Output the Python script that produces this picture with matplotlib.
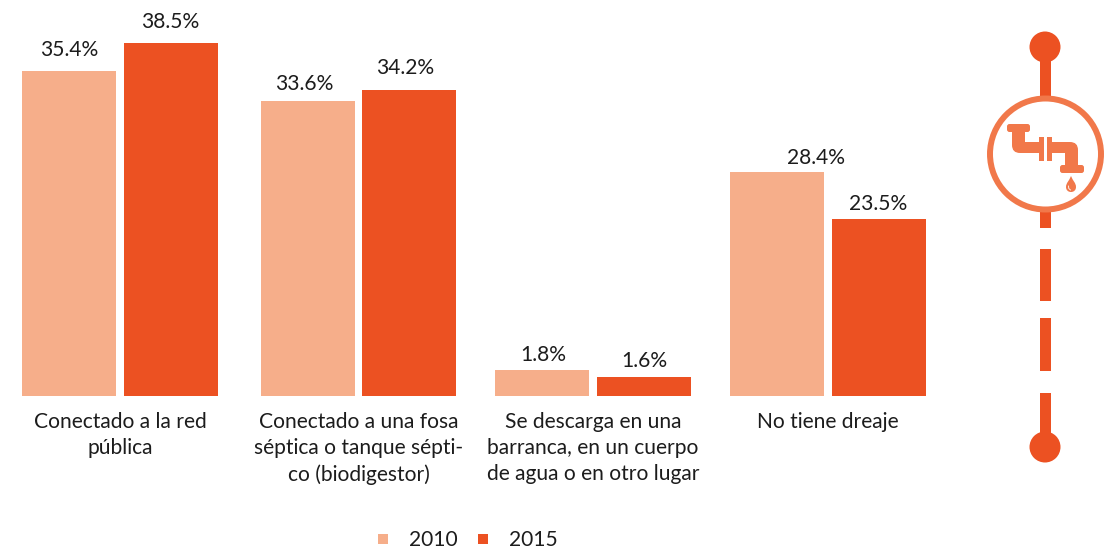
import matplotlib
matplotlib.use("Agg")
import matplotlib.pyplot as plt
from matplotlib.patches import Circle, FancyBboxPatch, PathPatch, Rectangle
from matplotlib.path import Path

categories = ["Conectado a la red\npública",
              "Conectado a una fosa\nséptica o tanque sépti-\nco (biodigestor)",
              "Se descarga en una\nbarranca, en un cuerpo\nde agua o en otro lugar",
              "No tiene dreaje"]
# bar heights as drawn in the original (not quite in scale with the labels)
heights_2010 = [35.4, 32.2, 2.8, 24.4]
heights_2015 = [38.5, 33.4, 2.1, 19.3]
labels_2010 = ["35.4%", "33.6%", "1.8%", "28.4%"]
labels_2015 = ["38.5%", "34.2%", "1.6%", "23.5%"]
years = ["2010", "2015"]

light = "#F6AE8A"
dark = "#EC5122"
ring = "#F1784A"
txt = "#1c1c1c"
plt.rcParams["font.family"] = ["Lato", "DejaVu Sans"]

fig = plt.figure(figsize=(11.18, 5.52), dpi=100)
W, H = 1118, 552

# overlay in pixel coordinates, y going down
ax = fig.add_axes([0, 0, 1, 1])
ax.set_xlim(0, W)
ax.set_ylim(H, 0)
ax.axis("off")

# bars
base = 396
scale = 353 / 38.5
left_2010 = [22, 261, 495, 730]
left_2015 = [124, 362, 597, 832]
bar_w = 94
fs = 15.1
# the value labels sit by hand in the original, not centred on every bar
label_pos_2010 = [(69.5, 50.5), (304, 84.5), (543, 355), (816, 158)]
label_pos_2015 = [(170, 21.5), (405, 68.5), (644, 361), (878, 204)]
for i, cat in enumerate(categories):
    x1 = left_2010[i]
    x2 = left_2015[i]
    ax.bar(x1, -heights_2010[i] * scale, bar_w, bottom=base, align="edge", color=light)
    ax.bar(x2, -heights_2015[i] * scale, bar_w, bottom=base, align="edge", color=dark)
    ax.text(*label_pos_2010[i], labels_2010[i], ha="center", va="center", fontsize=fs, color=txt)
    ax.text(*label_pos_2015[i], labels_2015[i], ha="center", va="center", fontsize=fs, color=txt)
    ax.text((x1 + x2 + bar_w) / 2, 412, cat, ha="center", va="top", fontsize=fs, color=txt, linespacing=1.39)

# legend
for year, col, sq, tx in zip(years, [light, dark], [378, 478], [409, 509]):
    ax.add_patch(Rectangle((sq, 534), 10, 10, color=col, lw=0))
    ax.text(tx, 540, year, ha="left", va="center", fontsize=fs, color=txt)

# dashed line with the end dots
cx = 1045
for y0, y1 in [(47, 100), (205, 228), (249, 301), (318, 371), (393, 447)]:
    ax.add_patch(Rectangle((cx - 5.5, y0), 11, y1 - y0, color=dark, lw=0))
ax.add_patch(Circle((cx, 47), 15.5, color=dark, lw=0))
ax.add_patch(Circle((cx, 447), 15.5, color=dark, lw=0))
ax.add_patch(Circle((cx + 0.5, 154), 55.5, fc="white", ec=ring, lw=4.3))

# faucet icon
def round_box(x, y, w, h, r=2.5):
    ax.add_patch(FancyBboxPatch((x + r, y + r), w - 2 * r, h - 2 * r,
                                boxstyle="round,pad=%s" % r, fc=ring, ec="none"))

round_box(1007, 124, 23, 8)
round_box(1060, 165, 24, 8)
pipe_l = Path([(1012, 130), (1025, 130), (1025, 142), (1039, 142), (1039, 153), (1020, 153),
               (1012, 153), (1012, 145), (1012, 130)],
              [1, 2, 2, 2, 2, 2, 3, 3, 2])
pipe_r = Path([(1051, 142), (1070, 142), (1078, 142), (1078, 150), (1078, 168), (1065, 168),
               (1065, 153), (1051, 153), (1051, 142)],
              [1, 2, 3, 3, 2, 2, 2, 2, 2])
ax.add_patch(PathPatch(pipe_l, fc=ring, ec="none"))
ax.add_patch(PathPatch(pipe_r, fc=ring, ec="none"))
ax.add_patch(Rectangle((1039, 137), 4.5, 24, color=ring, lw=0))
ax.add_patch(Rectangle((1047, 137), 4.5, 24, color=ring, lw=0))
drop = Path([(1071, 176), (1069, 181), (1066, 183), (1066, 187),
             (1066, 190), (1068, 192), (1071, 192),
             (1074, 192), (1076, 190), (1076, 187),
             (1076, 183), (1073, 181), (1071, 176)],
            [1, 4, 4, 4, 4, 4, 4, 4, 4, 4, 4, 4, 4])
ax.add_patch(PathPatch(drop, fc=ring, ec="none"))
ax.plot([1068.5, 1068.8, 1070.5], [186, 188.5, 190], color="white", lw=0.6)

fig.savefig("out.png", dpi=100, facecolor="white")
